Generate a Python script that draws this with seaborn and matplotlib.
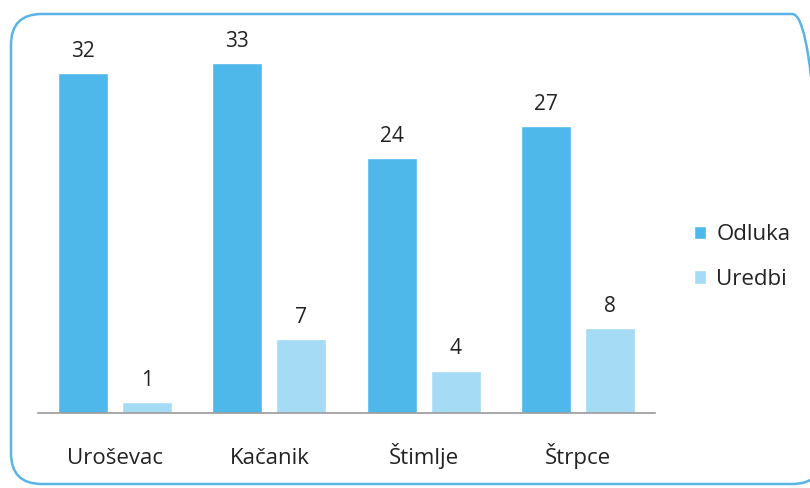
import pandas as pd
import matplotlib.pyplot as plt
import seaborn as sns
from matplotlib.patches import FancyBboxPatch

# podaci
gradovi = ['Uroševac', 'Kačanik', 'Štimlje', 'Štrpce']
odluka = [32, 33, 24, 27]
uredbi = [1, 7, 4, 8]
serije = ['Odluka', 'Uredbi']
boje = ['#4fb8ea', '#a6dbf5']

df = pd.DataFrame({
    'grad': gradovi * 2,
    'vrednost': odluka + uredbi,
    'tip': ['Odluka'] * len(gradovi) + ['Uredbi'] * len(gradovi),
})

sns.set_style('white')
plt.rcParams['font.family'] = ['Open Sans', 'DejaVu Sans']

fig = plt.figure(figsize=(8.1, 4.88), dpi=100)
ax = fig.add_axes([38 / 810, 75 / 488, 617 / 810, 380 / 488])

sns.barplot(data=df, x='grad', y='vrednost', hue='tip', order=gradovi,
            hue_order=serije, palette=boje, width=0.83, gap=0.22,
            saturation=1, ax=ax, legend=True)

for c in ax.containers:
    ax.bar_label(c, padding=8, fontsize=15, color='#222222')

ax.set_xlim(-0.5, 3.5)
ax.set_ylim(0, 35.8)
ax.set_xlabel('')
ax.set_ylabel('')
ax.set_yticks([])
ax.tick_params(axis='x', which='major', length=0, pad=37, labelsize=16,
               labelcolor='#222222')
for lbl in ax.get_xticklabels():
    lbl.set_va('baseline')
ax.set_xticks([-0.5, 0.5, 1.5, 2.5, 3.5], minor=True)
ax.tick_params(axis='x', which='minor', length=7, width=1.2, color='#8a8a8a',
               direction='out')
for s in ['top', 'right', 'left']:
    ax.spines[s].set_visible(False)
ax.spines['bottom'].set_color('#9a9a9a')
ax.spines['bottom'].set_linewidth(1.2)

h, l = ax.get_legend_handles_labels()
ax.get_legend().remove()
fig.legend(h, l, loc='center left', bbox_to_anchor=(674 / 810, 1 - 257 / 488),
           frameon=False, fontsize=16, handlelength=0.55, handleheight=0.55,
           handletextpad=0.45, labelspacing=1.05, labelcolor='#222222')

# okvir
okvir = FancyBboxPatch((11 / 810, 4 / 488), 812 / 810, 470 / 488,
                       boxstyle='round,pad=0,rounding_size=0.038',
                       transform=fig.transFigure, fill=False,
                       edgecolor='#5ab4e6', linewidth=1.8, clip_on=False,
                       mutation_aspect=810 / 488)
fig.patches.append(okvir)

fig.savefig('out.png', dpi=100)
